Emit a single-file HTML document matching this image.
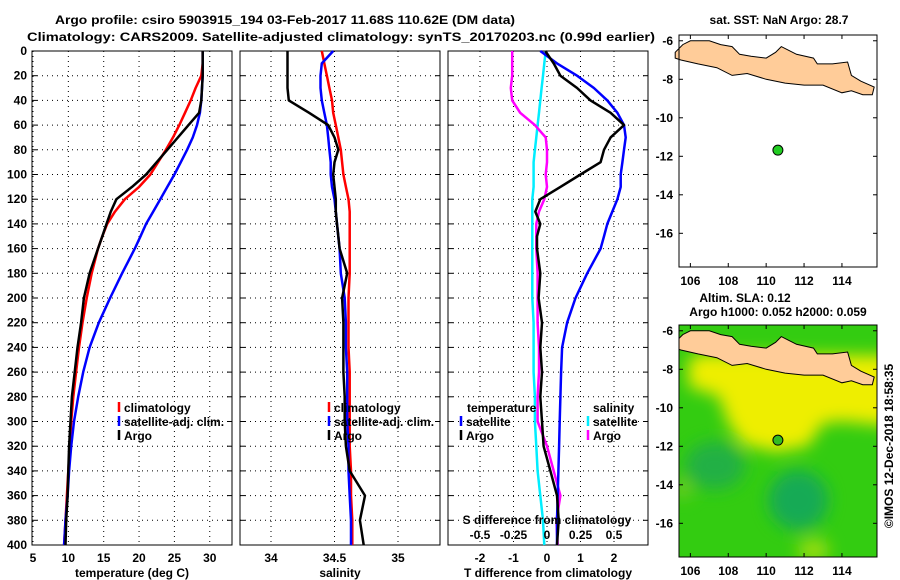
<!DOCTYPE html>
<html><head><meta charset="utf-8">
<style>
body{margin:0;background:#fff;}
svg{display:block;}
text{font-family:"Liberation Sans",sans-serif;font-weight:bold;font-size:12px;fill:#000;}
</style></head>
<body>
<svg id="c" width="900" height="580" viewBox="0 0 900 580" xmlns="http://www.w3.org/2000/svg">
<defs>
<filter id="blur" x="-30%" y="-30%" width="160%" height="160%"><feGaussianBlur stdDeviation="8"/></filter>
<clipPath id="mapclip"><rect x="679" y="325" width="198" height="232"/></clipPath>
</defs>
<text x="55" y="24" textLength="460" lengthAdjust="spacingAndGlyphs" font-size="14">Argo profile: csiro 5903915_194 03-Feb-2017 11.68S 110.62E (DM data)</text>
<text x="27" y="41" textLength="628" lengthAdjust="spacingAndGlyphs" font-size="14">Climatology: CARS2009. Satellite-adjusted climatology: synTS_20170203.nc (0.99d earlier)</text>
<g id="g"></g>
<text x="779" y="24" text-anchor="middle">sat. SST: NaN Argo: 28.7</text>
<text x="745" y="302" text-anchor="middle">Altim. SLA: 0.12</text>
<text x="778" y="316" text-anchor="middle">Argo h1000: 0.052 h2000: 0.059</text>
<text transform="translate(893,446) rotate(-90)" text-anchor="middle" font-weight="normal" font-size="12">©IMOS 12-Dec-2018 18:58:35</text>
</svg>
<script>
const depths=[0,10,20,30,40,50,60,70,80,90,100,110,120,130,140,150,160,180,200,220,240,260,280,300,320,340,360,380,400];
const tClim=[29.0,29.0,28.8,28.0,27.3,26.5,25.7,24.8,23.8,22.7,21.6,20.0,18.0,16.6,15.5,14.8,14.2,13.3,12.6,12.0,11.5,11.1,10.7,10.4,10.2,10.0,9.8,9.6,9.4];
const tSat=[29.0,29.0,29.0,28.9,28.8,28.6,28.2,27.6,26.8,25.9,25.0,24.0,23.0,22.0,21.0,20.2,19.4,17.6,15.9,14.3,13.0,12.1,11.4,10.8,10.4,10.1,9.9,9.6,9.4];
const tArgo=[29.0,29.0,29.0,28.9,28.8,28.5,27.0,25.5,24.0,22.5,21.0,19.0,16.8,16.0,15.4,14.8,14.2,13.0,12.2,11.8,11.3,10.9,10.5,10.3,10.1,10.0,9.9,9.7,9.6];
const sClim=[34.40,34.42,34.44,34.46,34.48,34.49,34.51,34.53,34.55,34.56,34.57,34.59,34.61,34.62,34.62,34.62,34.62,34.62,34.61,34.61,34.61,34.62,34.62,34.62,34.62,34.63,34.63,34.64,34.64];
const sSat=[34.49,34.40,34.39,34.39,34.40,34.42,34.44,34.45,34.46,34.47,34.47,34.48,34.50,34.51,34.52,34.53,34.54,34.55,34.58,34.59,34.59,34.60,34.60,34.60,34.61,34.61,34.62,34.63,34.63];
const sArgo=[34.13,34.13,34.13,34.13,34.14,34.30,34.45,34.50,34.53,34.50,34.49,34.50,34.51,34.51,34.52,34.53,34.54,34.60,34.56,34.57,34.57,34.57,34.58,34.58,34.59,34.62,34.74,34.70,34.73];
const dTSat=[-0.2,0.3,0.9,1.4,1.8,2.1,2.3,2.35,2.3,2.25,2.2,2.2,2.1,1.95,1.8,1.7,1.6,1.2,0.85,0.6,0.45,0.42,0.4,0.38,0.36,0.34,0.32,0.3,0.3];
const dTArgo=[-0.05,0.2,0.4,0.9,1.3,1.9,2.3,1.9,1.7,1.6,1.0,0.4,-0.2,-0.35,-0.2,-0.3,-0.3,-0.2,-0.25,-0.15,-0.2,-0.15,-0.2,-0.15,-0.1,0.1,0.3,0.35,0.3];
const dSSat=[-0.01,-0.02,-0.03,-0.04,-0.05,-0.06,-0.07,-0.08,-0.09,-0.1,-0.1,-0.1,-0.11,-0.11,-0.11,-0.11,-0.11,-0.11,-0.11,-0.1,-0.1,-0.1,-0.09,-0.09,-0.08,-0.07,-0.05,-0.03,-0.02];
const dSArgo=[-0.26,-0.26,-0.26,-0.27,-0.26,-0.2,-0.09,-0.01,0.0,0.0,-0.01,0.0,-0.02,-0.06,-0.08,-0.08,-0.08,-0.07,-0.07,-0.07,-0.06,-0.06,-0.07,-0.07,0.0,0.05,0.1,0.07,0.08];
const tTicks=[5,10,15,20,25,30];
const sTicks=[34,34.5,35];
const dTTicks=[-2,-1,0,1,2];
const dSTicks=[-0.5,-0.25,0,0.25,0.5];
const dSTickLbl=["-0.5","-0.25","0","0.25","0.5"];
const depthTicks=[0,20,40,60,80,100,120,140,160,180,200,220,240,260,280,300,320,340,360,380,400];
const lonTicks=[106,108,110,112,114];
const latTicks=[-6,-8,-10,-12,-14,-16];
const floatLon=110.62, floatLat=-11.68;

const NS="http://www.w3.org/2000/svg";
const G=document.getElementById('g');
function mk(tag,attrs,parent){const e=document.createElementNS(NS,tag);for(const k in attrs)e.setAttribute(k,attrs[k]);(parent||G).appendChild(e);return e;}
const Y0=51,Y1=545;
const yD=d=>Y0+(d/400)*(Y1-Y0);
const panels=[
 {x0:32,x1:232,lo:5-(33-32)/7.07,hi:5+(232-33)/7.07,name:'temperature'},
 {x0:240,x1:440,lo:34-(271-240)/127,hi:34+(440-271)/127,name:'salinity'},
 {x0:448,x1:648,lo:-(547-448)/33.5,hi:(648-547)/33.5,name:'difference'}];
function xf(p){return v=>p.x0+(v-p.lo)/(p.hi-p.lo)*(p.x1-p.x0);}
const fx=panels.map(xf);
const fxS=v=>fx[2](v*4);

panels.forEach((p,i)=>{
 const f=fx[i];
 const ticks=i==0?tTicks:i==1?sTicks:dTTicks;
 ticks.forEach(t=>{const x=f(t);
  const l=mk('line',{x1:x,x2:x,y1:Y0,y2:Y1,stroke:'#000','stroke-dasharray':'1,4','stroke-width':1});
  
  const tx=mk('text',{x:x,y:562,'text-anchor':'middle'});tx.textContent=(t<0?'-':'')+Math.abs(t);
  
 });
 depthTicks.forEach(d=>{const y=yD(d);
  if(d>0&&d<400){const l=mk('line',{x1:p.x0,x2:p.x1,y1:y,y2:y,stroke:'#000','stroke-dasharray':'1,4'});
  }
  mk('line',{x1:p.x0,x2:p.x0+5,y1:y,y2:y,stroke:'#000'});mk('line',{x1:p.x1-5,x2:p.x1,y1:y,y2:y,stroke:'#000'});
  if(i==0){const t=mk('text',{x:27,y:y+4,'text-anchor':'end'});t.textContent=d;
   }
 });
 const r=mk('rect',{x:p.x0,y:Y0,width:p.x1-p.x0,height:Y1-Y0,fill:'none',stroke:'#000','stroke-width':1});
 
});
const xl=[['temperature (deg C)',132],['salinity',340],['T difference from climatology',548]];
xl.forEach(([s,x])=>{const t=mk('text',{x:x,y:577,'text-anchor':'middle'});t.textContent=s;
 });

function line(vals,f,col,name,w){
 const pts=vals.map((v,k)=>f(v).toFixed(1)+','+yD(depths[k]).toFixed(1)).join(' ');
 const e=mk('polyline',{points:pts,fill:'none',stroke:col,'stroke-width':w||2.5,'stroke-linejoin':'round'});
 
}
line(tClim,fx[0],'#ff0000','temp-climatology-line');
line(tSat,fx[0],'#0000ff','temp-satellite-line');
line(tArgo,fx[0],'#000','temp-argo-line');
line(sClim,fx[1],'#ff0000','sal-climatology-line');
line(sSat,fx[1],'#0000ff','sal-satellite-line');
line(sArgo,fx[1],'#000','sal-argo-line');
line(dSSat,fxS,'#00eeff','sdiff-satellite-line');
line(dSArgo,fxS,'#ff00ff','sdiff-argo-line');
line(dTSat,fx[2],'#0000ff','tdiff-satellite-line');
line(dTArgo,fx[2],'#000','tdiff-argo-line');

const st=mk('text',{x:547,y:524,'text-anchor':'middle'});st.textContent='S difference from climatology';

dSTicks.forEach((v,k)=>{const t=mk('text',{x:fxS(v),y:539,'text-anchor':'middle'});t.textContent=dSTickLbl[k];
 });

function legend(x,y,entries){entries.forEach(([c,s],k)=>{
 const yy=y+k*14;
 const m=mk('line',{x1:x,x2:x,y1:yy-10,y2:yy,stroke:c,'stroke-width':2.5});
 
 const t=mk('text',{x:x+5,y:yy});t.textContent=s;});}
legend(119,412,[['#ff0000','climatology'],['#0000ff','satellite-adj. clim.'],['#000','Argo']]);
legend(329,412,[['#ff0000','climatology'],['#0000ff','satellite-adj. clim.'],['#000','Argo']]);
const tl=mk('text',{x:467,y:412});tl.textContent='temperature';
const sl=mk('text',{x:593,y:412});sl.textContent='salinity';
legend(461,426,[['#0000ff','satellite'],['#000','Argo']]);
legend(588,426,[['#00eeff','satellite'],['#ff00ff','Argo']]);

function mapAxes(top,bot){
 const mx=lon=>679+(lon-105.4)*(198/(115.85-105.4));
 const my=lat=>top+(-5.7-lat)*((bot-top)/(17.75-5.7));
 return {mx,my};
}
const java=[[105.2,-6.6],[105.6,-6.2],[106.0,-6.0],[106.5,-6.0],[107.0,-6.0],[107.6,-6.2],[108.2,-6.3],[108.6,-6.7],[109.2,-6.8],[110.0,-6.9],[110.5,-6.6],[110.8,-6.3],[111.2,-6.5],[111.6,-6.7],[112.5,-6.9],[112.7,-7.2],[113.5,-7.2],[114.3,-7.1],[114.5,-7.8],[115.0,-8.1],[115.7,-8.4],[115.6,-8.8],[115.1,-8.8],[114.5,-8.6],[114.0,-8.7],[113.0,-8.3],[112.0,-8.3],[111.0,-8.2],[110.0,-8.0],[109.0,-7.7],[108.2,-7.8],[107.4,-7.4],[106.4,-7.2],[105.5,-7.0],[105.2,-6.9]];
function drawMap(top,bot,isSla){
 const {mx,my}=mapAxes(top,bot);
 const g=mk('g',isSla?{'clip-path':'url(#mapclip)'}:{});
 
 if(isSla){
  mk('rect',{x:679,y:top,width:198,height:bot-top,fill:'#33cc11'},g);
  const bl=mk('g',{filter:'url(#blur)'},g);
  mk('ellipse',{cx:mx(107.3),cy:my(-13.0),rx:30,ry:24,fill:'#22b044'},bl);
  mk('ellipse',{cx:mx(111.7),cy:my(-14.8),rx:30,ry:30,fill:'#18aa55'},bl);
  mk('ellipse',{cx:mx(112.5),cy:my(-17.4),rx:16,ry:12,fill:'#99dd11'},bl);
  mk('ellipse',{cx:mx(105.6),cy:my(-14.2),rx:8,ry:10,fill:'#77cc22'},bl);
  mk('path',{d:`M${mx(105.9)},${my(-7.5)} L${mx(106.5)},${my(-7.2)} L${mx(117)},${my(-7.3)} L${mx(117)},${my(-11.0)} L${mx(114)},${my(-10.7)} L${mx(113)},${my(-10.8)} L${mx(112.2)},${my(-12.0)} L${mx(110.5)},${my(-12.3)} L${mx(108.8)},${my(-11.9)} L${mx(108.0)},${my(-10.8)} L${mx(107.5)},${my(-9.4)} L${mx(105.9)},${my(-8.9)}Z`,fill:'#eeee00'},bl);
 }
 const pts=java.map(([a,b])=>mx(a).toFixed(1)+','+my(b).toFixed(1)).join(' ');
 const land=mk('polygon',{points:pts,fill:'#ffcc99',stroke:'#000','stroke-width':1},g);
 
 const dot=mk('circle',{cx:mx(floatLon),cy:my(floatLat),r:5,fill:isSla?'#33bb22':'#22cc22',stroke:'#000','stroke-width':1});
 
 const fr=mk('rect',{x:679,y:top,width:198,height:bot-top,fill:'none',stroke:'#000'});
 
 lonTicks.forEach(l=>{const x=mx(l);mk('line',{x1:x,x2:x,y1:top,y2:top+4,stroke:'#000'});mk('line',{x1:x,x2:x,y1:bot-4,y2:bot,stroke:'#000'});
  const t=mk('text',{x:x,y:bot+18,'text-anchor':'middle'});t.textContent=l;});
 latTicks.forEach(l=>{const y=my(l);mk('line',{x1:679,x2:683,y1:y,y2:y,stroke:'#000'});mk('line',{x1:873,x2:877,y1:y,y2:y,stroke:'#000'});
  const t=mk('text',{x:673,y:y+4,'text-anchor':'end'});t.textContent=l;});
}
drawMap(35,267,false);
drawMap(325,557,true);
</script>
</body></html>
